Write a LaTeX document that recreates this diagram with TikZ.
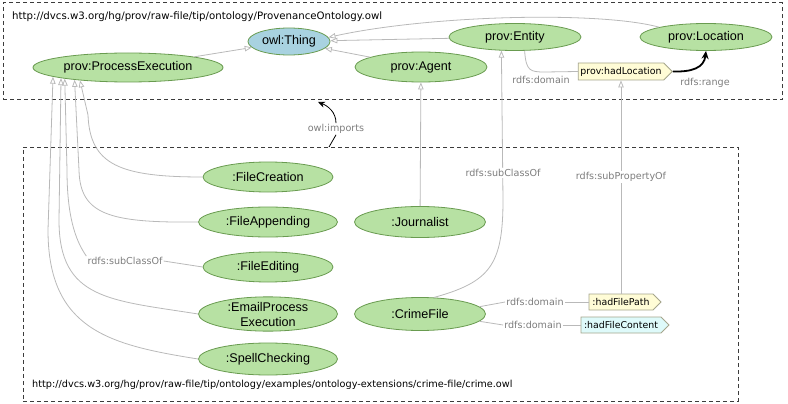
\documentclass[tikz,border=0pt]{standalone}
\usepackage{fontspec}
\setmainfont{Liberation Sans}
\newfontfamily\labfont{DejaVu Sans}
\usetikzlibrary{shapes.geometric,shapes.symbols,arrows.meta}
\definecolor{gfill}{RGB}{183,225,163}
\definecolor{gdraw}{RGB}{105,155,80}
\definecolor{bfill}{RGB}{168,210,224}
\definecolor{yfill}{RGB}{255,252,214}
\definecolor{cfill}{RGB}{222,250,250}
\definecolor{tagdraw}{RGB}{165,165,140}
\definecolor{edgegray}{RGB}{185,185,185}
\definecolor{labgray}{RGB}{125,125,125}
\definecolor{boxdash}{RGB}{60,60,60}
\begin{document}
\begin{tikzpicture}[x=1pt,y=-1pt,
 cls/.style={ellipse, draw=gdraw, fill=gfill, line width=0.8pt, inner sep=0pt, font=\fontsize{12.6}{15}\selectfont, align=center},
 tag/.style={signal, signal to=east, draw=tagdraw, line width=0.8pt, inner sep=0pt, minimum height=17pt, font=\labfont\fontsize{9.4}{11}\selectfont, text=black},
 lab/.style={font=\labfont\fontsize{9.6}{11}\selectfont, text=labgray, inner sep=1pt},
 url/.style={font=\labfont\fontsize{9.8}{11}\selectfont, anchor=west, inner sep=0pt},
 sub/.style={draw=edgegray, line width=0.8pt, -{Triangle[open,length=7pt,width=5.5pt]}},
 rel/.style={draw=edgegray, line width=0.8pt},
 region/.style={draw=boxdash, dash pattern=on 4pt off 3pt, line width=1pt, inner sep=0pt},
]
\useasboundingbox (0,0) rectangle (788,404);
% regions
\node[region, minimum width=779pt, minimum height=97pt] (topbox) at (392.5,51.5) {};
\node[region, minimum width=715pt, minimum height=254pt] (botbox) at (380.5,274) {};
\node[url, font=\labfont\fontsize{10.2}{12}\selectfont] (url1) at (12,17) {http://dvcs.w3.org/hg/prov/raw-file/tip/ontology/ProvenanceOntology.owl};
\node[url, font=\labfont\fontsize{9.7}{12}\selectfont] (url2) at (32,385) {http://dvcs.w3.org/hg/prov/raw-file/tip/ontology/examples/ontology-extensions/crime-file/crime.owl};
% top classes
\node[cls, fill=bfill, minimum width=82pt, minimum height=27pt] (thing) at (289,41.5) {owl:Thing};
\node[cls, minimum width=190pt, minimum height=29pt] (pe) at (128,67.5) {prov:ProcessExecution};
\node[cls, minimum width=132pt, minimum height=30pt] (agent) at (421,67) {prov:Agent};
\node[cls, minimum width=132pt, minimum height=27pt] (entity) at (515,37) {prov:Entity};
\node[cls, minimum width=132pt, minimum height=27pt] (location) at (706,37) {prov:Location};
\node[tag, fill=yfill, minimum width=94pt] (hl) at (621,71.5) {prov:hadLocation};
\node[lab] (dom1) at (541,80) {rdfs:domain};
\node[lab] (range) at (705,83) {rdfs:range};
% bottom classes
\node[cls, minimum width=130pt, minimum height=30pt] (fc) at (268,177) {:FileCreation};
\node[cls, minimum width=139pt, minimum height=30pt] (fa) at (268,222) {:FileAppending};
\node[cls, minimum width=130pt, minimum height=30pt] (fe) at (268,267) {:FileEditing};
\node[cls, minimum width=139pt, minimum height=32pt] (epe) at (268,314) {:EmailProcess\\Execution};
\node[cls, minimum width=139pt, minimum height=32pt] (sc) at (268,359) {:SpellChecking};
\node[cls, minimum width=131pt, minimum height=31pt] (jour) at (420,222) {:Journalist};
\node[cls, minimum width=131pt, minimum height=33pt] (crime) at (420,314) {:CrimeFile};
\node[tag, fill=yfill, minimum width=72pt, minimum height=16pt] (hfp) at (621,302) {:hadFilePath};
\node[tag, fill=cfill, minimum width=88pt, minimum height=16pt] (hfc) at (621,325) {:hadFileContent};
\node[lab] (scl) at (125,261) {rdfs:subClassOf};
\node[lab] (dom2) at (535,302) {rdfs:domain};
\node[lab] (dom3) at (533,325) {rdfs:domain};
\node[lab] (imports) at (336,129) {owl:imports};
\coordinate (impfoot) at (329,147);
\coordinate (imphead) at (318,102);
% edges to owl:Thing
\draw[sub] (pe) -- (thing);
\draw[sub] (agent) -- (thing);
\draw[sub] (entity) -- (thing);
\draw[sub] (location.north west) .. controls (600,11) and (430,15) .. (thing.6);
% subclass edges to ProcessExecution
\draw[sub] (fc.west) .. controls (120,177) and (90,165) .. (88,115) -- (pe.195);
\draw[sub] (fa.west) .. controls (110,223) and (80,215) .. (79,170) -- (pe.193);
\draw[rel] (fe.west) -- (scl.east);
\draw[sub] (scl.north west) .. controls (75,240) and (67,215) .. (67,170) -- (pe.190.5);
\draw[sub] (epe.west) .. controls (110,300) and (59,300) .. (59,220) -- (pe.189);
\draw[sub] (sc.west) .. controls (110,345) and (48,330) .. (48,230) -- (pe.187.5);
% other subclass / subproperty edges
\draw[sub] (jour) -- (agent);
\draw[sub] (crime.50) .. controls (490,282) and (503,265) .. (503,200) -- (entity.225);
\draw[sub] (hfp.north) -- (hl.south);
% domain / range
\draw[rel] (entity.-55) .. controls (526,71) and (530,72) .. (545,72) -- (hl.west);
\draw[black, line width=1.8pt, -{Stealth[length=8pt,width=7pt]}] (hl.east) .. controls (692,72) and (704,68) .. (location.south);
\draw[rel] (crime.7) -- (dom2.west);
\draw[rel] (dom2.east) -- (hfp.west);
\draw[rel] (crime.-7) -- (dom3.west);
\draw[rel] (dom3.east) -- (hfc.west);
% imports
\draw[black, line width=0.8pt] (impfoot) -- (imports.south);
\draw[black, line width=0.8pt, -{Stealth[length=7pt,width=6pt]}] (imports.north) .. controls (336,112) and (328,106) .. (imphead);
% labels on top of lines
\node[lab, fill=white] (scl2) at (503,173) {rdfs:subClassOf};
\node[lab, fill=white] (spo) at (621,177) {rdfs:subPropertyOf};
\end{tikzpicture}
\end{document}
